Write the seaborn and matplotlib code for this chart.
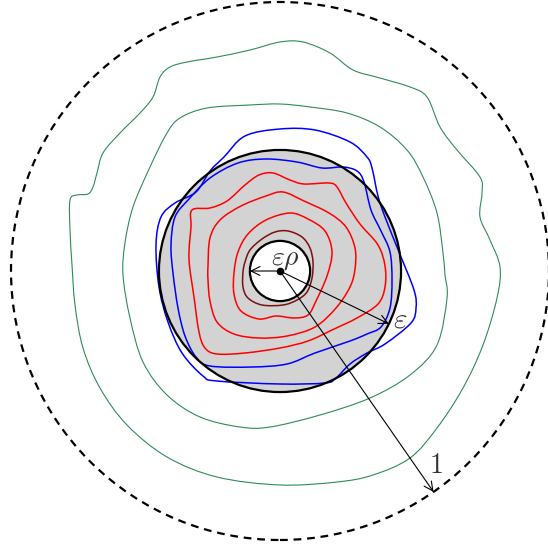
import numpy as np
import matplotlib
matplotlib.use("Agg")
import matplotlib.pyplot as plt
from matplotlib.path import Path
from matplotlib.patches import PathPatch
import seaborn as sns

# radii in units of the outer (dashed) circle
eps = 0.45
eps_rho = 0.112

# traced level curves, offsets from the centre in 1/269 of the outer radius
scale = 269.0
green_outer_x = [-210, -203, -192, -187, -183, -177, -160, -140, -127, -120, -110, -93, -63, -30, 0, 23, 50, 73, 100, 130,
                 147, 160, 177, 200, 202, 200, 210, 220, 217, 203, 183, 157, 130, 93, 57, 0, -63, -113, -153, -180,
                 -197, -205, -208, -210]
green_outer_y = [71, 76, 77, 84, 98, 118, 138, 158, 174, 194, 204, 209, 214, 221, 229, 229, 218, 201, 193, 184,
                 174, 144, 121, 94, 78, 54, 31, 4, -27, -74, -117, -157, -187, -204, -211, -214, -206, -186, -154, -117,
                 -77, -34, 6, 41]
green_inner_x = [-157, -155, -147, -130, -113, -100, -73, -30, 0, 30, 67, 100, 127, 143, 157, 163, 165, 167, 157, 130,
                 90, 40, -10, -40, -80, -113, -137, -150]
green_inner_y = [-4, 28, 64, 104, 138, 153, 163, 166, 167, 164, 158, 144, 121, 94, 58, 18, -4, -27, -74, -104,
                 -127, -144, -156, -156, -146, -124, -91, -47]
blue_outer_x = [-124, -119, -105, -84, -70, -56, -35, 0, 35, 70, 87, 92, 98, 105, 119, 134, 136, 131, 105, 87,
                70, 56, 45, 0, -63, -77, -98, -112, -121]
blue_outer_y = [26, 54, 68, 79, 100, 114, 135, 142, 141, 129, 114, 103, 75, 54, 19, -19, -37, -52, -73, -82,
                -93, -107, -112, -113, -110, -105, -82, -51, -16]
blue_inner_x = [-109, -105, -91, -70, -42, -14, 17, 42, 63, 77, 84, 91, 101, 110, 112, 110, 101, 87, 70, 35,
                7, -28, -70, -84, -95, -102, -107]
blue_inner_y = [26, 54, 72, 93, 108, 112, 109, 103, 104, 100, 89, 61, 40, 19, -9, -37, -56, -63, -70, -82,
                -93, -96, -95, -86, -65, -37, -2]
red1_x = [-88, -70, -53, -35, -21, -7, 10, 24, 49, 57, 66, 80, 98, 105, 105, 98, 77, 52, 28, 0,
          -35, -63, -75, -81, -86, -91, -89]
red1_y = [61, 63, 70, 86, 96, 98, 91, 87, 88, 84, 68, 47, 26, 5, -16, -33, -47, -59, -70, -77,
          -82, -83, -77, -61, -26, 12, 44]
red2_x = [-72, -70, -60, -39, -14, 3, 24, 49, 66, 75, 75, 70, 56, 35, 7, -21, -46, -63, -70, -72]
red2_y = [5, 33, 51, 65, 75, 79, 70, 58, 44, 23, 2, -16, -37, -56, -65, -67, -63, -51, -30, -9]
red3_x = [-46, -42, -32, -14, 10, 28, 45, 52, 47, 36, 28, 14, -4, -21, -39, -46]
red3_y = [-2, 19, 37, 51, 58, 52, 40, 19, -5, -30, -44, -47, -45, -48, -40, -23]
darkred_x = [-37, -35, -30, -18, -5, 8, 22, 30, 33, 32, 27, 17, 3, -18, -32, -37]
darkred_y = [-1, 9, 21, 32, 39, 40, 34, 23, 9, -7, -21, -29, -34, -34, -27, -16]

curves = [
    (green_outer_x, green_outer_y, "#2e8b57", 0.8),
    (green_inner_x, green_inner_y, "#2e8b57", 0.8),
    (blue_outer_x, blue_outer_y, "#0000ff", 1.1),
    (blue_inner_x, blue_inner_y, "#0000ff", 1.1),
    (red1_x, red1_y, "#ff0000", 1.1),
    (red2_x, red2_y, "#ff0000", 1.1),
    (red3_x, red3_y, "#ff0000", 1.1),
    (darkred_x, darkred_y, "#7a1010", 1.1),
]

# arrow directions (degrees) for the radius markers
angle_eps = -25.9
angle_one = -55.2


def smooth_closed_path(xs, ys):
    # closed bezier through the traced nodes (catmull-rom tangents)
    p = np.column_stack([xs, ys]) / scale
    n = len(p)
    verts = [p[0]]
    codes = [Path.MOVETO]
    for i in range(n):
        p0, p1, p2, p3 = p[i - 1], p[i], p[(i + 1) % n], p[(i + 2) % n]
        verts += [p1 + (p2 - p0) / 6, p2 - (p3 - p1) / 6, p2]
        codes += [Path.CURVE4] * 3
    return Path(verts, codes)


sns.set_theme(style="white")
plt.rcParams["mathtext.fontset"] = "cm"

fig = plt.figure(figsize=(5.48, 5.52), dpi=100)
ax = fig.add_axes([0, 0, 1, 1])

# gray disk of radius eps
ax.add_patch(plt.Circle((0, 0), eps, facecolor="#d3d3d3", edgecolor="none", zorder=1))

for cx, cy, col, lw in curves:
    ax.add_patch(PathPatch(smooth_closed_path(cx, cy), facecolor="none", edgecolor=col, lw=lw, zorder=2))

ax.add_patch(plt.Circle((0, 0), eps, facecolor="none", edgecolor="black", lw=1.6, zorder=3))
ax.add_patch(plt.Circle((0, 0), eps_rho, facecolor="white", edgecolor="black", lw=1.6, zorder=3))
ax.add_patch(plt.Circle((0, 0), 1.0, facecolor="none", edgecolor="black", lw=1.6,
                        linestyle=(0, (3.5, 2.6)), zorder=3))

arrow = dict(arrowstyle="->", lw=0.8, color="black", mutation_scale=16, shrinkA=0, shrinkB=0)
ax.annotate("", xy=(-eps_rho, 0), xytext=(0, 0), arrowprops=arrow, zorder=4)
a = np.deg2rad(angle_eps)
ax.annotate("", xy=(eps * np.cos(a), eps * np.sin(a)), xytext=(0, 0), arrowprops=arrow, zorder=4)
a = np.deg2rad(angle_one)
ax.annotate("", xy=(np.cos(a), np.sin(a)), xytext=(0, 0), arrowprops=arrow, zorder=4)
ax.plot(0, 0, "o", color="black", ms=4.5, zorder=5)

txt = "#333333"
ax.text(0.019, 0.048, r"$\varepsilon\rho$", fontsize=20, color=txt, ha="center", va="center", zorder=5)
ax.text(0.446, -0.182, r"$\varepsilon$", fontsize=21, color=txt, ha="center", va="center", zorder=5)
ax.text(0.58, -0.72, r"$1$", fontsize=20, color=txt, ha="center", va="center", zorder=5)

ax.set_xlim(-280 / scale, 268 / scale)
ax.set_ylim(-281 / scale, 271 / scale)
ax.set_aspect("equal")
ax.set_axis_off()

fig.savefig("out.png", dpi=100)
